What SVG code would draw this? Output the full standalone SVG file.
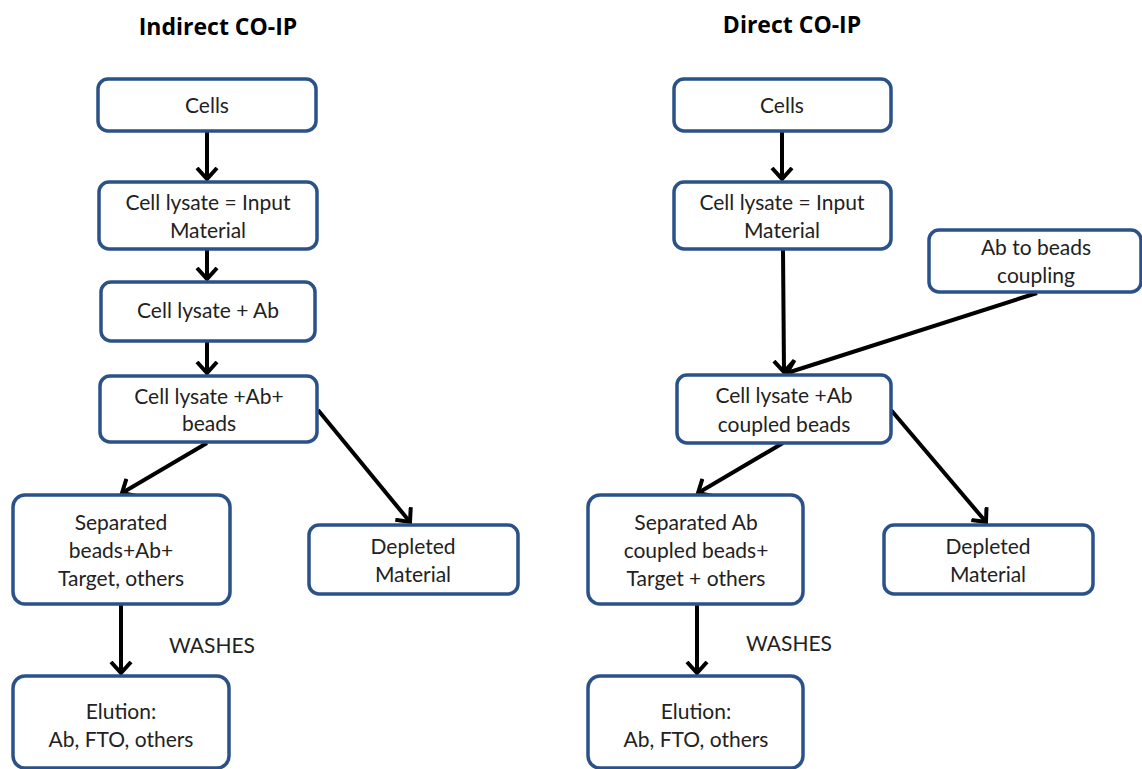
<svg xmlns="http://www.w3.org/2000/svg" width="1142" height="769" viewBox="0 0 1142 769">
<style>
.box{fill:#fff;stroke:#2a5288;stroke-width:3.5}
.t{font-family:Lato,"Open Sans","Liberation Sans",sans-serif;font-size:21px;fill:#222;text-anchor:middle}
.h{font-family:"Open Sans","Liberation Sans",sans-serif;font-size:23px;font-weight:bold;fill:#000;text-anchor:middle}
.c{stroke:#000;stroke-width:4;fill:none;marker-end:url(#ah)}
</style>
<defs>
<marker id="ah" viewBox="0 0 24 24" refX="12" refY="12" markerWidth="24" markerHeight="24" markerUnits="userSpaceOnUse" orient="auto">
<path d="M1,2 L12,12 L1,22" fill="none" stroke="#000" stroke-width="4"/>
</marker>
</defs>
<text class="h" x="218" y="35">Indirect CO-IP</text>
<text class="h" x="792" y="33">Direct CO-IP</text>
<g id="connectors">
<line class="c" x1="207" y1="131" x2="207" y2="179"/>
<line class="c" x1="207" y1="249" x2="207" y2="279"/>
<line class="c" x1="207" y1="341" x2="207" y2="373"/>
<line class="c" x1="207" y1="443" x2="122" y2="493"/>
<line class="c" x1="318" y1="410" x2="410" y2="522"/>
<line class="c" x1="121" y1="604" x2="121" y2="673"/>
<line class="c" x1="782" y1="131" x2="782" y2="179"/>
<line class="c" x1="783" y1="249" x2="784" y2="372"/>
<line class="c" x1="1037" y1="293" x2="787" y2="373"/>
<line class="c" x1="783" y1="443" x2="698" y2="493"/>
<line class="c" x1="891" y1="410" x2="986" y2="522"/>
<line class="c" x1="697" y1="604" x2="697" y2="673"/>
</g>
<text class="t" x="212" y="653">WASHES</text>
<text class="t" x="789" y="651">WASHES</text>
<g id="l-cells"><rect class="box" x="98" y="79" width="218" height="52" rx="10"/><text class="t" x="207" y="113">Cells</text></g>
<g id="l-lysate"><rect class="box" x="99" y="182" width="218" height="67" rx="10"/><text class="t" x="208" y="210">Cell lysate = Input</text><text class="t" x="208" y="238">Material</text></g>
<g id="l-ab"><rect class="box" x="101" y="282" width="214" height="59" rx="10"/><text class="t" x="208" y="318">Cell lysate + Ab</text></g>
<g id="l-beads"><rect class="box" x="100" y="376" width="217" height="66" rx="10"/><text class="t" x="209" y="404">Cell lysate +Ab+</text><text class="t" x="209" y="431">beads</text></g>
<g id="l-sep"><rect class="box" x="13" y="495" width="217" height="109" rx="12"/><text class="t" x="121" y="530">Separated</text><text class="t" x="121" y="558">beads+Ab+</text><text class="t" x="121" y="586">Target, others</text></g>
<g id="l-dep"><rect class="box" x="309" y="525" width="209" height="69" rx="10"/><text class="t" x="413" y="554">Depleted</text><text class="t" x="413" y="582">Material</text></g>
<g id="l-elu"><rect class="box" x="13" y="676" width="216" height="92" rx="12"/><text class="t" x="121" y="719">Elution:</text><text class="t" x="121" y="747">Ab, FTO, others</text></g>
<g id="r-cells"><rect class="box" x="674" y="79" width="217" height="52" rx="10"/><text class="t" x="782" y="113">Cells</text></g>
<g id="r-lysate"><rect class="box" x="674" y="182" width="217" height="67" rx="10"/><text class="t" x="782" y="210">Cell lysate = Input</text><text class="t" x="782" y="238">Material</text></g>
<g id="r-coupling"><rect class="box" x="929" y="230" width="212" height="62" rx="10"/><text class="t" x="1036" y="255">Ab to beads</text><text class="t" x="1036" y="283">coupling</text></g>
<g id="r-coupled"><rect class="box" x="677" y="375" width="214" height="68" rx="10"/><text class="t" x="784" y="403">Cell lysate +Ab</text><text class="t" x="784" y="432">coupled beads</text></g>
<g id="r-sep"><rect class="box" x="588" y="495" width="215" height="109" rx="12"/><text class="t" x="696" y="530">Separated Ab</text><text class="t" x="696" y="558">coupled beads+</text><text class="t" x="696" y="586">Target + others</text></g>
<g id="r-dep"><rect class="box" x="884" y="525" width="209" height="69" rx="10"/><text class="t" x="988" y="554">Depleted</text><text class="t" x="988" y="582">Material</text></g>
<g id="r-elu"><rect class="box" x="588" y="676" width="215" height="92" rx="12"/><text class="t" x="696" y="719">Elution:</text><text class="t" x="696" y="747">Ab, FTO, others</text></g>
</svg>
